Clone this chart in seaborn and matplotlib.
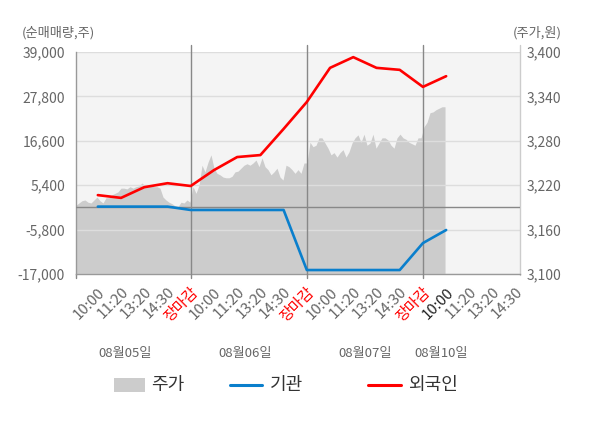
import numpy as np
import pandas as pd
import matplotlib
matplotlib.use("Agg")
import matplotlib.pyplot as plt
import seaborn as sns
from matplotlib.patches import Rectangle
from matplotlib.lines import Line2D

# ---------------- data ----------------
tick_labels = ['10:00', '11:20', '13:20', '14:30', '장마감'] * 3 + ['10:00', '11:20', '13:20', '14:30']
date_labels = ['08월05일', '08월06일', '08월07일', '08월10일']
legend_labels = ['주가', '기관', '외국인']

# net buying (shares) at each labelled tick 1..16
foreign = [2900, 2200, 4900, 5900, 5200, 9200, 12500, 13000, 19600, 26400,
           35000, 37700, 35000, 34500, 30200, 32900]
institution = [0, 0, 0, 0, -850, -850, -850, -850, -850, -16000,
               -16000, -16000, -16000, -16000, -9200, -5900]

# intraday price (won)
price_day1 = [3193, 3196, 3199, 3200, 3197, 3196, 3200, 3204, 3199, 3196, 3203, 3203, 3207,
              3209, 3211, 3216, 3216, 3215, 3218, 3216, 3218, 3219, 3223, 3219, 3218, 3219,
              3218, 3218, 3216, 3204, 3200, 3197, 3195, 3192, 3191, 3197, 3196, 3200, 3197]
price_day2 = [3218, 3209, 3220, 3247, 3238, 3251, 3261, 3243, 3236, 3234, 3231, 3230, 3230,
              3232, 3238, 3239, 3243, 3247, 3249, 3247, 3250, 3254, 3245, 3257, 3245, 3241,
              3234, 3238, 3243, 3231, 3227, 3247, 3245, 3241, 3236, 3241, 3236, 3250, 3250]
price_day3 = [3278, 3272, 3274, 3284, 3284, 3277, 3270, 3261, 3264, 3258, 3264, 3268, 3258,
              3265, 3277, 3284, 3288, 3278, 3289, 3274, 3277, 3289, 3270, 3277, 3284, 3284,
              3281, 3274, 3270, 3284, 3289, 3284, 3282, 3278, 3276, 3274, 3284, 3284]
price_day4 = [3299, 3305, 3318, 3319, 3322, 3324, 3326, 3326]

left_ticks = [-17000, -5800, 5400, 16600, 27800, 39000]
right_ticks = [3100, 3160, 3220, 3280, 3340, 3400]

# ---------------- style ----------------
sns.set_style("white")
plt.rcParams['font.family'] = ['Noto Sans CJK KR', 'DejaVu Sans']

GRAY_TXT = '#666666'
RED = '#ff0000'
BLUE = '#0a7fcc'
AREA = '#cccccc'

W, H = 600, 428
fig = plt.figure(figsize=(W / 100, H / 100), dpi=100)
ax = fig.add_axes([76 / W, 1 - 274 / H, 444 / W, 222 / H])
ax_r = ax.twinx()
ax.set_zorder(ax_r.get_zorder() + 1)
ax.patch.set_visible(False)
ax_r.patch.set_visible(True)
ax_r.patch.set_facecolor('#f4f4f4')

x0 = 0.06
px_per_unit = 23.22
price = price_day1 + price_day2 + price_day3 + price_day4
xp = x0 + 3 * np.arange(len(price)) / px_per_unit

ax_r.fill_between(xp, 3100, price, color=AREA, lw=0)
ax_r.set_ylim(3100, 3400)
ax_r.set_yticks(right_ticks)
ax_r.set_yticklabels([f'{v:,}' for v in right_ticks])

df = pd.DataFrame({
    'x': list(range(1, len(foreign) + 1)) * 2,
    'v': foreign + institution,
    'who': ['외국인'] * len(foreign) + ['기관'] * len(institution),
})
sns.lineplot(data=df, x='x', y='v', hue='who', palette={'외국인': RED, '기관': BLUE},
             lw=1.9, ax=ax, legend=False, zorder=5)

ax.set_xlim(x0, 19.18)
ax.set_ylim(-17000, 39000)
ax.set_yticks(left_ticks)
ax.set_yticklabels([f'{v:,}' for v in left_ticks])
ax.set_xlabel('')
ax.set_ylabel('')
ax.yaxis.grid(True, color='#dddddd', lw=1)
ax.xaxis.grid(False)
ax_r.grid(False)
ax.axhline(0, color='#888888', lw=1, zorder=3)

for v in [5, 10, 15]:
    ax.axvline(v, ymin=-0.02, ymax=1.032, color='#888888', lw=1, clip_on=False, zorder=3)
ax.axvline(x0, ymin=-0.02, ymax=0, color='#888888', lw=1, clip_on=False)
ax.plot([1, 1], [-0.005, 1.032], transform=ax.transAxes, color='#cccccc', lw=1, clip_on=False)

ax.set_xticks(range(1, 20))
ax.set_xticklabels(tick_labels, rotation=45, ha='right', rotation_mode='anchor')
for i, lab in enumerate(ax.get_xticklabels()):
    if tick_labels[i] == '장마감':
        lab.set_color(RED)
    elif i == 15:
        lab.set_color('#222222')
    else:
        lab.set_color(GRAY_TXT)
ax.tick_params(axis='x', length=0, pad=8, labelsize=10.8)
ax.tick_params(axis='y', length=0, pad=8, labelsize=10, labelcolor=GRAY_TXT)
ax_r.tick_params(axis='y', length=0, pad=5, labelsize=10, labelcolor=GRAY_TXT)

for s in ['top', 'right']:
    ax.spines[s].set_visible(False)
for s in ['top', 'left', 'bottom', 'right']:
    ax_r.spines[s].set_visible(False)
ax.spines['left'].set_color('#999999')
ax.spines['bottom'].set_color('#999999')
ax.spines['left'].set_linewidth(1)
ax.spines['bottom'].set_linewidth(1)

# date labels
date_pos = [2.19, 7.36, 12.53, 15.78]
for p, d in zip(date_pos, date_labels):
    ax.text(p, -0.36, d, transform=ax.get_xaxis_transform(), ha='center', va='center',
            fontsize=9.5, color=GRAY_TXT)

fig.text(22 / W, 1 - 33 / H, '(순매매량,주)', ha='left', va='center', fontsize=9.5, color=GRAY_TXT)
fig.text(562 / W, 1 - 33 / H, '(주가,원)', ha='right', va='center', fontsize=9.5, color=GRAY_TXT)

# legend (placed manually to match the reference spacing)
ly = 1 - 385 / H
fig.patches.append(Rectangle((114 / W, 1 - 392 / H), 31 / W, 14 / H, transform=fig.transFigure,
                             facecolor=AREA, edgecolor='none'))
fig.lines.append(Line2D([230 / W, 262 / W], [ly, ly], transform=fig.transFigure, color=BLUE, lw=2.2))
fig.lines.append(Line2D([368 / W, 401 / W], [ly, ly], transform=fig.transFigure, color=RED, lw=2.2))
for xpix, lab in zip([151, 270, 408], legend_labels):
    fig.text(xpix / W, ly, lab, ha='left', va='center', fontsize=13, color='#333333')

fig.savefig('out.png', dpi=100)
